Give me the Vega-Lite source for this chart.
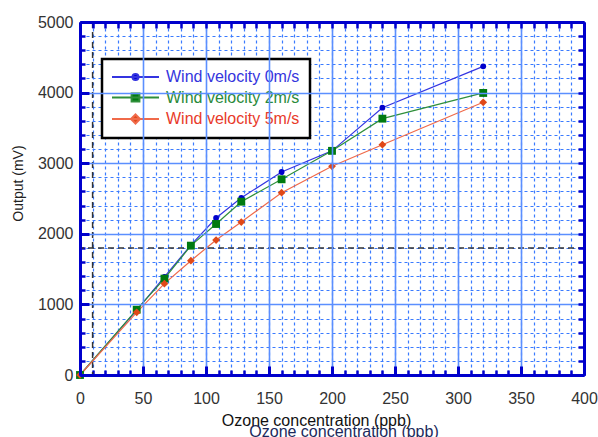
{
  "$schema": "https://vega.github.io/schema/vega-lite/v6.json",
  "width": 504,
  "height": 353,
  "autosize": "none",
  "padding": {"left": 80, "top": 22, "right": 14, "bottom": 62},
  "background": "white",
  "config": {
    "view": {"stroke": null},
    "font": "Liberation Sans"
  },
  "title": {
    "text": "Ozone concentration (ppb)",
    "orient": "bottom",
    "anchor": "middle",
    "frame": "group",
    "dx": 12,
    "offset": -4,
    "font": "Liberation Sans",
    "fontSize": 16,
    "fontWeight": "normal",
    "color": "#1c2a5c"
  },
  "datasets": {
    "series": [
      {"ppb": 0, "mv": 0, "series": "Wind velocity 0m/s"},
      {"ppb": 45, "mv": 920, "series": "Wind velocity 0m/s"},
      {"ppb": 67, "mv": 1390, "series": "Wind velocity 0m/s"},
      {"ppb": 88, "mv": 1840, "series": "Wind velocity 0m/s"},
      {"ppb": 108, "mv": 2224, "series": "Wind velocity 0m/s"},
      {"ppb": 128, "mv": 2510, "series": "Wind velocity 0m/s"},
      {"ppb": 160, "mv": 2875, "series": "Wind velocity 0m/s"},
      {"ppb": 200, "mv": 3175, "series": "Wind velocity 0m/s"},
      {"ppb": 240, "mv": 3786, "series": "Wind velocity 0m/s"},
      {"ppb": 320, "mv": 4372, "series": "Wind velocity 0m/s"},
      {"ppb": 0, "mv": 0, "series": "Wind velocity 2m/s"},
      {"ppb": 45, "mv": 925, "series": "Wind velocity 2m/s"},
      {"ppb": 67, "mv": 1365, "series": "Wind velocity 2m/s"},
      {"ppb": 88, "mv": 1832, "series": "Wind velocity 2m/s"},
      {"ppb": 108, "mv": 2139, "series": "Wind velocity 2m/s"},
      {"ppb": 128, "mv": 2455, "series": "Wind velocity 2m/s"},
      {"ppb": 160, "mv": 2772, "series": "Wind velocity 2m/s"},
      {"ppb": 200, "mv": 3175, "series": "Wind velocity 2m/s"},
      {"ppb": 240, "mv": 3631, "series": "Wind velocity 2m/s"},
      {"ppb": 320, "mv": 3995, "series": "Wind velocity 2m/s"},
      {"ppb": 0, "mv": 0, "series": "Wind velocity 5m/s"},
      {"ppb": 45, "mv": 888, "series": "Wind velocity 5m/s"},
      {"ppb": 67, "mv": 1294, "series": "Wind velocity 5m/s"},
      {"ppb": 88, "mv": 1619, "series": "Wind velocity 5m/s"},
      {"ppb": 108, "mv": 1912, "series": "Wind velocity 5m/s"},
      {"ppb": 128, "mv": 2167, "series": "Wind velocity 5m/s"},
      {"ppb": 160, "mv": 2582, "series": "Wind velocity 5m/s"},
      {"ppb": 200, "mv": 2956, "series": "Wind velocity 5m/s"},
      {"ppb": 240, "mv": 3262, "series": "Wind velocity 5m/s"},
      {"ppb": 320, "mv": 3863, "series": "Wind velocity 5m/s"}
    ],
    "refx": [{"ppb": 10}],
    "refy": [{"mv": 1800}]
  },
  "layer": [
    {
      "data": {"name": "series"},
      "mark": {"type": "point", "opacity": 0},
      "encoding": {
        "x": {"field": "ppb", "type": "quantitative", "scale": {"domain": [0, 400], "nice": false},
          "axis": {"orient": "bottom", "values": [0,10,20,30,40,50,60,70,80,90,100,110,120,130,140,150,160,170,180,190,200,210,220,230,240,250,260,270,280,290,300,310,320,330,340,350,360,370,380,390,400],
            "grid": true, "gridColor": "#3a7bff", "gridDash": [3, 3], "gridWidth": 1.2,
            "labels": false, "domain": false, "ticks": true, "tickSize": -5, "tickWidth": 2.5, "tickColor": "#0000cc", "title": null, "zindex": 0}},
        "y": {"field": "mv", "type": "quantitative", "scale": {"domain": [0, 5000], "nice": false},
          "axis": {"orient": "left", "values": [0,200,400,600,800,1000,1200,1400,1600,1800,2000,2200,2400,2600,2800,3000,3200,3400,3600,3800,4000,4200,4400,4600,4800,5000],
            "grid": true, "gridColor": "#3a7bff", "gridDash": [3, 3], "gridWidth": 1.2,
            "labels": false, "domain": false, "ticks": true, "tickSize": -5, "tickWidth": 2.5, "tickColor": "#0000cc", "title": null, "zindex": 0}}
      }
    },
    {
      "data": {"name": "series"},
      "mark": {"type": "point", "opacity": 0},
      "encoding": {
        "x": {"field": "ppb", "type": "quantitative",
          "axis": {"orient": "bottom", "values": [0,50,100,150,200,250,300,350,400], "format": "d",
            "grid": true, "gridColor": "#5b8fff", "gridWidth": 1.6,
            "labels": true, "labelFont": "Liberation Sans", "labelFontSize": 16, "labelColor": "#333333", "labelPadding": 24, "labelFlush": false,
            "domain": true, "domainColor": "#0000cc", "domainWidth": 3,
            "ticks": true, "tickSize": -9, "tickWidth": 3, "tickColor": "#0000cc",
            "title": "Ozone concentration (ppb)", "titleFont": "Liberation Sans", "titleFontSize": 16, "titleFontWeight": "normal", "titleColor": "#111111",
            "titleX": 236, "titleY": 45, "titleBaseline": "middle", "titleAnchor": "middle", "zindex": 1}},
        "y": {"field": "mv", "type": "quantitative",
          "axis": {"orient": "left", "values": [0,1000,2000,3000,4000,5000], "format": "d",
            "grid": true, "gridColor": "#5b8fff", "gridWidth": 1.6,
            "labels": true, "labelFont": "Liberation Sans", "labelFontSize": 16, "labelColor": "#333333", "labelPadding": 16,
            "domain": true, "domainColor": "#0000cc", "domainWidth": 3,
            "ticks": true, "tickSize": -9, "tickWidth": 3, "tickColor": "#0000cc",
            "title": "Output (mV)", "titleFont": "Liberation Sans", "titleFontSize": 14, "titleFontWeight": "normal", "titleColor": "#222222",
            "titleX": -62, "titleY": 161, "titleBaseline": "middle", "titleAnchor": "middle", "zindex": 1}}
      }
    },
    {
      "data": {"name": "series"},
      "mark": {"type": "point", "opacity": 0},
      "encoding": {
        "x": {"field": "ppb", "type": "quantitative",
          "axis": {"orient": "top", "values": [0,10,20,30,40,50,60,70,80,90,100,110,120,130,140,150,160,170,180,190,200,210,220,230,240,250,260,270,280,290,300,310,320,330,340,350,360,370,380,390,400],
            "grid": false, "labels": false, "domain": true, "domainColor": "#0000cc", "domainWidth": 3,
            "ticks": true, "tickSize": -6, "tickWidth": 2.5, "tickColor": "#0000cc", "title": null, "zindex": 1}},
        "y": {"field": "mv", "type": "quantitative",
          "axis": {"orient": "right", "values": [0,200,400,600,800,1000,1200,1400,1600,1800,2000,2200,2400,2600,2800,3000,3200,3400,3600,3800,4000,4200,4400,4600,4800,5000],
            "grid": false, "labels": false, "domain": true, "domainColor": "#0000cc", "domainWidth": 3,
            "ticks": true, "tickSize": -6, "tickWidth": 2.5, "tickColor": "#0000cc", "title": null, "zindex": 1}}
      }
    },
    {
      "data": {"name": "refx"},
      "mark": {"type": "rule", "color": "#333333", "strokeDash": [6, 4], "strokeWidth": 1.5},
      "encoding": {"x": {"field": "ppb", "type": "quantitative", "axis": null}}
    },
    {
      "data": {"name": "refy"},
      "mark": {"type": "rule", "color": "#333333", "strokeDash": [6, 4], "strokeWidth": 1.5},
      "encoding": {"y": {"field": "mv", "type": "quantitative", "axis": null}}
    },
    {
      "data": {"name": "series"},
      "mark": {"type": "line", "strokeWidth": 1.2},
      "encoding": {
        "x": {"field": "ppb", "type": "quantitative", "axis": null},
        "y": {"field": "mv", "type": "quantitative", "axis": null},
        "color": {"field": "series", "type": "nominal",
          "scale": {"domain": ["Wind velocity 0m/s", "Wind velocity 2m/s", "Wind velocity 5m/s"], "range": ["#3434e0", "#2f8f3a", "#f06a4a"]},
          "legend": {
            "orient": "none", "legendX": 22, "legendY": 37, "title": null,
            "fillColor": "white", "strokeColor": "#000000",
            "padding": 10, "rowPadding": 4.5, "symbolSize": 16, "symbolStrokeWidth": 2, "labelOffset": 38,
            "labelFont": "Liberation Sans", "labelFontSize": 16, "labelLimit": 300,
            "encode": {
              "legend": {"update": {"strokeWidth": {"value": 2.5}}},
              "symbols": {"update": {
                "shape": {"signal": "datum.value === 'Wind velocity 0m/s' ? 'M-4,0H19.5M6.25,0A1.5,1.5,0,1,0,9.25,0A1.5,1.5,0,1,0,6.25,0Z' : datum.value === 'Wind velocity 2m/s' ? 'M-4,0H19.5M5.8,-1.95H9.7V1.95H5.8Z' : 'M-4,0H19.5M5.5,0L7.75,-2.25L10,0L7.75,2.25Z'"},
                "fill": {"signal": "datum.value === 'Wind velocity 0m/s' ? '#0000cc' : datum.value === 'Wind velocity 2m/s' ? '#007a10' : '#e04818'"},
                "stroke": {"signal": "datum.value === 'Wind velocity 0m/s' ? '#2a2ad8' : datum.value === 'Wind velocity 2m/s' ? '#1a8a2a' : '#f07a5a'"},
                "strokeWidth": {"value": 2},
                "opacity": {"value": 1}
              }},
              "labels": {"update": {
                "fill": {"signal": "datum.value === 'Wind velocity 0m/s' ? '#3535dd' : datum.value === 'Wind velocity 2m/s' ? '#2a8a3a' : '#e83a2a'"}
              }}
            }
          }}
      }
    },
    {
      "data": {"name": "series"},
      "transform": [{"filter": {"field": "series", "equal": "Wind velocity 0m/s"}}],
      "mark": {"type": "point", "filled": true, "opacity": 1, "strokeWidth": 0, "shape": "circle", "size": 34, "color": "#0000cc"},
      "encoding": {
        "x": {"field": "ppb", "type": "quantitative", "axis": null},
        "y": {"field": "mv", "type": "quantitative", "axis": null}
      }
    },
    {
      "data": {"name": "series"},
      "transform": [{"filter": {"field": "series", "equal": "Wind velocity 2m/s"}}],
      "mark": {"type": "point", "filled": true, "opacity": 1, "strokeWidth": 0, "shape": "square", "size": 62, "color": "#007a10"},
      "encoding": {
        "x": {"field": "ppb", "type": "quantitative", "axis": null},
        "y": {"field": "mv", "type": "quantitative", "axis": null}
      }
    },
    {
      "data": {"name": "series"},
      "transform": [{"filter": {"field": "series", "equal": "Wind velocity 5m/s"}}],
      "mark": {"type": "point", "filled": true, "opacity": 1, "strokeWidth": 0, "shape": "diamond", "size": 60, "color": "#e04818"},
      "encoding": {
        "x": {"field": "ppb", "type": "quantitative", "axis": null},
        "y": {"field": "mv", "type": "quantitative", "axis": null}
      }
    }
  ],
  "resolve": {"axis": {"x": "independent", "y": "independent"}}
}
